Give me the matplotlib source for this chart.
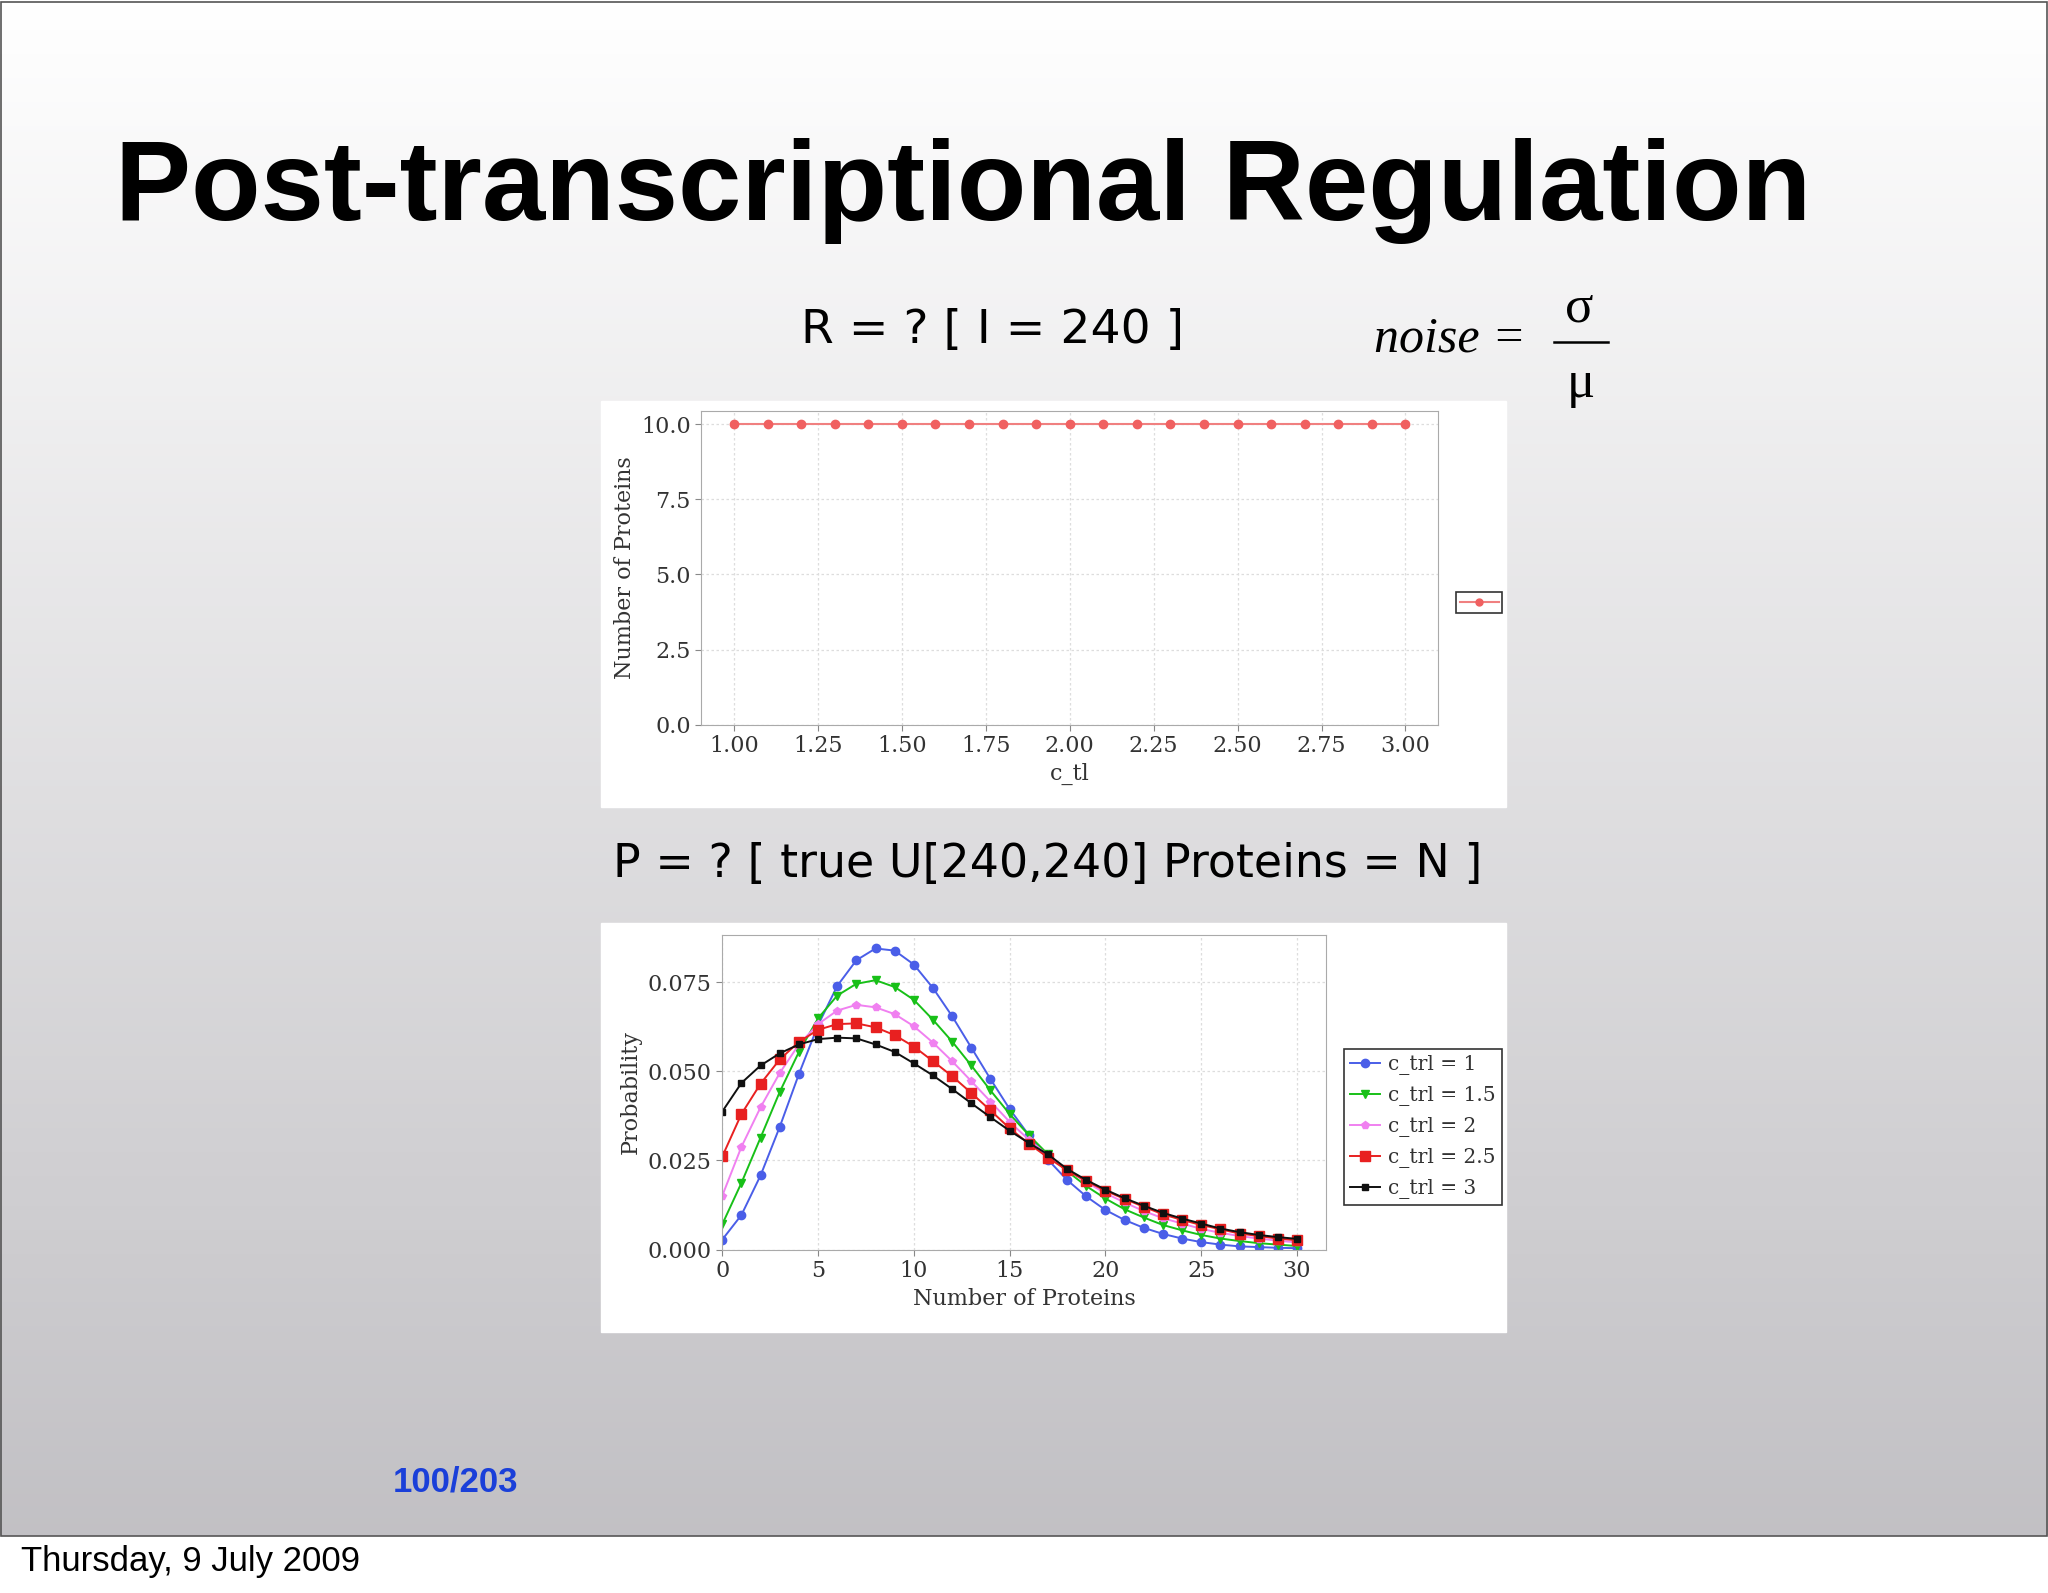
import numpy as np
import matplotlib
matplotlib.use("Agg")
import matplotlib.pyplot as plt
from matplotlib.patches import Rectangle
from matplotlib.lines import Line2D

# ---- data ----
c_tl = [1.0,1.1,1.2,1.3,1.4,1.5,1.6,1.7,1.8,1.9,2.0,2.1,2.2,2.3,2.4,2.5,2.6,2.7,2.8,2.9,3.0]
proteins_expected = [10.0]*21
tl_ticks = [1.00,1.25,1.50,1.75,2.00,2.25,2.50,2.75,3.00]

N = list(range(31))
p_ctrl1 = [0.0028,0.0097,0.0208,0.0344,0.0492,0.0629,0.0739,0.0811,0.0844,0.0838,0.0799,0.0733,0.0654,0.0566,0.0478,0.0394,0.0321,0.0252,0.0195,0.0149,0.0111,0.0083,0.0061,0.0044,0.0031,0.0021,0.0014,0.0009,0.0007,0.0005,0.0004]
p_ctrl15 = [0.0071,0.0187,0.0314,0.0442,0.0554,0.0648,0.0712,0.0745,0.0755,0.0736,0.0700,0.0644,0.0583,0.0516,0.0446,0.0380,0.0321,0.0267,0.0220,0.0178,0.0143,0.0113,0.0090,0.0069,0.0054,0.0041,0.0031,0.0024,0.0018,0.0014,0.0010]
p_ctrl2 = [0.0151,0.0288,0.0399,0.0495,0.0575,0.0632,0.0670,0.0686,0.0679,0.0660,0.0626,0.0580,0.0528,0.0472,0.0415,0.0358,0.0308,0.0264,0.0224,0.0189,0.0158,0.0132,0.0108,0.0088,0.0073,0.0058,0.0047,0.0038,0.0031,0.0025,0.0020]
p_ctrl25 = [0.0261,0.0380,0.0465,0.0533,0.0582,0.0616,0.0632,0.0634,0.0623,0.0601,0.0569,0.0528,0.0486,0.0439,0.0390,0.0340,0.0297,0.0258,0.0222,0.0192,0.0165,0.0142,0.0120,0.0099,0.0083,0.0069,0.0057,0.0045,0.0038,0.0031,0.0026]
p_ctrl3 = [0.0387,0.0467,0.0516,0.0550,0.0575,0.0590,0.0594,0.0592,0.0575,0.0554,0.0522,0.0488,0.0450,0.0410,0.0371,0.0333,0.0299,0.0267,0.0226,0.0195,0.0168,0.0144,0.0123,0.0103,0.0087,0.0073,0.0059,0.0049,0.0041,0.0035,0.0030]
series_labels = ["c_trl = 1","c_trl = 1.5","c_trl = 2","c_trl = 2.5","c_trl = 3"]
prob_ticks = [0.0,0.025,0.05,0.075]
dist_xticks = [0,5,10,15,20,25,30]

W, H = 1568.0, 1220.0
def fx(x): return x / W
def fy(y): return 1 - y / H
def box(x0, y0, x1, y1): return [fx(x0), fy(y1), (x1 - x0) / W, (y1 - y0) / H]

fig = plt.figure(figsize=(20.48, 15.93), dpi=100)

# background gradient
bg = fig.add_axes([0, 0, 1, 1]); bg.set_axis_off()
slide_bottom = 1176 / H
grad = np.linspace(1.0, 0.0, 256)[:, None]
top = np.array([1.0, 1.0, 1.0]); bot = np.array([0.76, 0.755, 0.77])
img = (top * grad[..., None] + bot * (1 - grad[..., None]))
img = np.repeat(img, 2, axis=1)
bg.imshow(img, extent=[0, 1, 1 - slide_bottom, 1], aspect='auto', transform=bg.transAxes)
bg.set_xlim(0, 1); bg.set_ylim(0, 1)
bg.add_patch(Rectangle((0, 0), 1, 1 - slide_bottom, color='white', transform=bg.transAxes))
bg.add_patch(Rectangle((0.0005, 1 - slide_bottom), 0.999, slide_bottom - 0.001, fill=False,
                       ec='#555555', lw=1.2, transform=bg.transAxes))

# white panels
for (x0, y0, x1, y1) in [(460, 307, 1153, 618), (460, 707, 1153, 1020)]:
    bg.add_patch(Rectangle((fx(x0), fy(y1)), (x1 - x0) / W, (y1 - y0) / H, color='white', transform=bg.transAxes))

fig.text(fx(88), fy(146), "Post-transcriptional Regulation", fontsize=82, fontweight='bold',
         family='Liberation Sans', va='center', ha='left')
fig.text(fx(760), fy(253), "R = ? [ I = 240 ]", fontsize=34, family='DejaVu Sans', va='center', ha='center')
fig.text(fx(1110), fy(260), "noise =", fontsize=36, family='Liberation Serif', style='italic', va='center', ha='center')
fig.text(fx(1209), fy(236), "σ", fontsize=38, family='Liberation Serif', va='center', ha='center')
fig.text(fx(1210), fy(294), "μ", fontsize=38, family='Liberation Serif', va='center', ha='center')
bg.plot([fx(1190), fx(1231)], [fy(262), fy(262)], color='black', lw=1.8)
fig.text(fx(802), fy(662), "P = ? [ true U[240,240] Proteins = N ]", fontsize=33, family='DejaVu Sans', va='center', ha='center')
fig.text(fx(349), fy(1135), "100/203", fontsize=25, fontweight='bold', color='#1a3fd9',
         family='Liberation Sans', va='center', ha='center')
fig.text(fx(16), fy(1196), "Thursday, 9 July 2009", fontsize=25, family='Liberation Sans', va='center', ha='left')

tickfont = dict(family='DejaVu Serif', size=16)

def style(ax):
    for s in ax.spines.values():
        s.set_color('#aaaaaa')
    ax.grid(True, color='#dddddd', ls=(0, (2, 2)), lw=0.9)
    ax.tick_params(colors='#555555', labelsize=16, length=4, color='#888888')
    for lab in ax.get_xticklabels() + ax.get_yticklabels():
        lab.set_family('DejaVu Serif'); lab.set_color('#333333')

# top chart
ax1 = fig.add_axes(box(537, 315, 1101, 555))
ax1.plot(c_tl, proteins_expected, color='#f08080', marker='o', ms=6, lw=1.5, mfc='#f06060', mec='#f06060')
ax1.set_xlim(0.903, 3.097); ax1.set_ylim(0, 10.43)
ax1.set_xticks(tl_ticks); ax1.set_xticklabels([f"{t:.2f}" for t in tl_ticks])
ax1.set_yticks([0, 2.5, 5, 7.5, 10]); ax1.set_yticklabels(["0.0", "2.5", "5.0", "7.5", "10.0"])
ax1.set_xlabel("c_tl", fontdict=tickfont, color='#333333', labelpad=4)
ax1.set_ylabel("Number of Proteins", fontdict=tickfont, color='#333333')
style(ax1)
leg1 = ax1.legend([Line2D([], [], color='#f08080', marker='o', ms=5, mfc='#f06060', mec='#f06060')], [""],
                  loc='center left', bbox_to_anchor=(1.025, 0.39), frameon=True, fancybox=False,
                  handlelength=2.8, handletextpad=0, borderpad=0.25, borderaxespad=0)
leg1.get_frame().set_edgecolor('black'); leg1.get_frame().set_linewidth(1.2)

# bottom chart
ax2 = fig.add_axes(box(553, 716, 1015, 957))
colors = ['#4a5ee8', '#18c018', '#f080f0', '#e82020', '#101010']
markers = ['o', 'v', 'p', 's', 's']
sizes = [6, 6, 6, 7, 5]
for ys, c, m, s, lab in zip([p_ctrl1, p_ctrl15, p_ctrl2, p_ctrl25, p_ctrl3], colors, markers, sizes, series_labels):
    ax2.plot(N, ys, color=c, marker=m, ms=s, lw=1.4, label=lab)
ax2.set_xlim(0, 31.5); ax2.set_ylim(0, 0.0882)
ax2.set_xticks(dist_xticks); ax2.set_yticks(prob_ticks)
ax2.set_yticklabels(["0.000", "0.025", "0.050", "0.075"])
ax2.set_xlabel("Number of Proteins", fontdict=tickfont, color='#333333', labelpad=4)
ax2.set_ylabel("Probability", fontdict=tickfont, color='#333333')
style(ax2)
leg2 = ax2.legend(loc='center left', bbox_to_anchor=(1.03, 0.39), frameon=True, fancybox=False,
                  prop=dict(family='DejaVu Serif', size=14.5), handlelength=1.5, handletextpad=0.4,
                  borderpad=0.3, labelspacing=0.55, borderaxespad=0)
leg2.get_frame().set_edgecolor('black'); leg2.get_frame().set_linewidth(1.2)
for t in leg2.get_texts(): t.set_color('#333333')

fig.savefig("out.png", dpi=100)
